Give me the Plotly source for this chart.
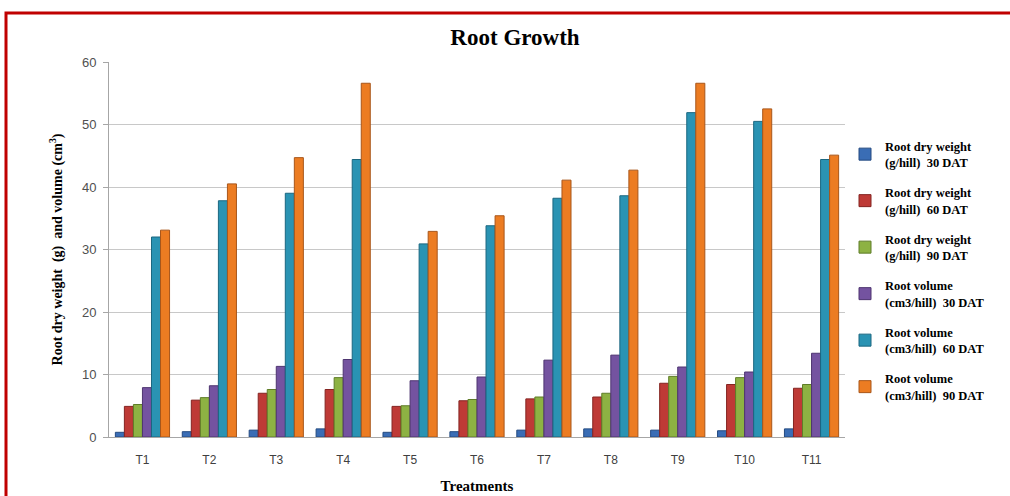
import plotly.graph_objects as go

treatments = ["T1", "T2", "T3", "T4", "T5", "T6", "T7", "T8", "T9", "T10", "T11"]

dry_wt_30 = [0.75, 0.85, 1.1, 1.3, 0.75, 0.85, 1.1, 1.3, 1.1, 1.0, 1.3]
dry_wt_60 = [4.9, 5.9, 7.0, 7.6, 4.9, 5.8, 6.1, 6.4, 8.6, 8.4, 7.8]
dry_wt_90 = [5.2, 6.3, 7.6, 9.5, 5.0, 6.0, 6.4, 7.0, 9.7, 9.5, 8.4]
vol_30 = [7.9, 8.2, 11.3, 12.4, 9.0, 9.6, 12.3, 13.1, 11.2, 10.4, 13.4]
vol_60 = [32.0, 37.8, 39.0, 44.4, 30.9, 33.8, 38.2, 38.6, 51.9, 50.5, 44.4]
vol_90 = [33.1, 40.5, 44.7, 56.6, 32.9, 35.4, 41.1, 42.7, 56.6, 52.5, 45.1]

series_names = [
    "<b>Root dry weight<br>(g/hill)  30 DAT</b>",
    "<b>Root dry weight<br>(g/hill)  60 DAT</b>",
    "<b>Root dry weight<br>(g/hill)  90 DAT</b>",
    "<b>Root volume<br>(cm3/hill)  30 DAT</b>",
    "<b>Root volume<br>(cm3/hill)  60 DAT</b>",
    "<b>Root volume<br>(cm3/hill)  90 DAT</b>",
]
series_values = [dry_wt_30, dry_wt_60, dry_wt_90, vol_30, vol_60, vol_90]
fill_colors = ["#3A6DB5", "#BE3A36", "#8DB243", "#7453A0", "#2A93B3", "#EC7C22"]
edge_colors = ["#244A80", "#842421", "#5F7D28", "#4E3570", "#1B6780", "#A8561A"]

fig = go.Figure()
for i, (name, vals) in enumerate(zip(series_names, series_values)):
    fig.add_trace(go.Bar(
        x=treatments, y=vals, name=name, legendgroup=f"g{i}",
        marker=dict(color=fill_colors[i], line=dict(color=edge_colors[i], width=1)),
    ))

serif = "Liberation Serif"
sans = "Liberation Sans"

fig.update_layout(
    width=1010, height=496,
    margin=dict(l=109, r=165, t=62, b=59),
    paper_bgcolor="white", plot_bgcolor="white",
    barmode="group", bargap=0.19, bargroupgap=0,
    title=dict(text="<b>Root Growth</b>", x=515 / 1010, xanchor="center",
               y=1 - 37 / 496, yanchor="middle",
               font=dict(family=serif, size=23, color="black")),
    legend=dict(x=1.0, xanchor="left", y=0.815, yanchor="top",
                traceorder="grouped", tracegroupgap=11,
                font=dict(family=serif, size=12.5, color="black"),
                bgcolor="rgba(0,0,0,0)"),
    showlegend=True,
    xaxis=dict(
        automargin=False,
        showgrid=False, showline=True, linecolor="#A6A6A6", linewidth=1,
        ticks="", tickfont=dict(family=sans, size=12, color="#404040"),
        ticklabelstandoff=12,
        title=dict(text="<b>Treatments</b>", standoff=14,
                   font=dict(family=serif, size=15, color="black")),
    ),
    yaxis=dict(
        automargin=False,
        range=[0, 60], dtick=10, showgrid=True, gridcolor="#C8C8C8", gridwidth=1,
        showline=True, linecolor="#A6A6A6", linewidth=1, zeroline=False,
        ticks="outside", ticklen=5, tickcolor="#A6A6A6",
        tickfont=dict(family=sans, size=13, color="#505050"),
        ticklabelstandoff=4,
        title=dict(text="<b>Root dry weight  (g)  and volume (cm<sup>3</sup>)</b>",
                   standoff=16, font=dict(family=serif, size=14, color="black")),
    ),
    shapes=[dict(
        type="rect", xref="paper", yref="paper",
        xsizemode="pixel", ysizemode="pixel", xanchor=0, yanchor=1,
        x0=-103, x1=1000, y0=-600, y1=49,
        line=dict(color="#C00000", width=3), fillcolor="rgba(0,0,0,0)",
        layer="above",
    )],
)

fig.write_html("out.html")
